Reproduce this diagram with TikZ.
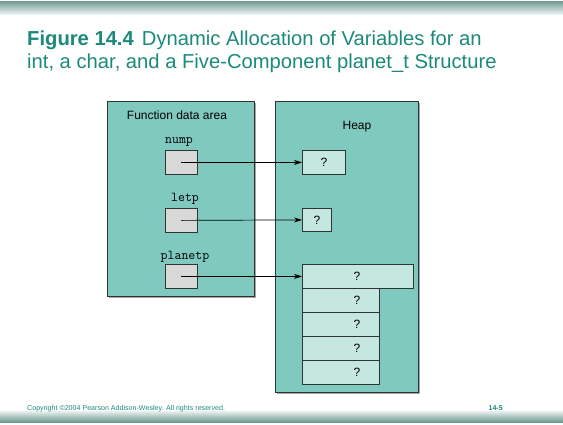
\documentclass[tikz,border=0pt]{standalone}
\usepackage{fontspec}
\setmainfont{Liberation Sans}
\usetikzlibrary{arrows.meta}
\definecolor{slideteal}{HTML}{1B8A7B}
\definecolor{bandtone}{HTML}{5E8F86}
\definecolor{areafill}{HTML}{80C9BF}
\definecolor{cellfill}{HTML}{C4E7E0}
\definecolor{ptrfill}{HTML}{D8D8D8}
\definecolor{edgegray}{HTML}{2E3533}
\definecolor{paper}{HTML}{FFFFFF}
\tikzset{
  panel/.style={inner sep=0pt, outer sep=0pt, anchor=north west, draw=none},
  area/.style={draw=edgegray, line width=0.9pt, fill=areafill, inner sep=0pt, anchor=north west},
  cell/.style={draw=edgegray, line width=0.8pt, fill=cellfill, inner sep=0pt, anchor=north west},
  ptrbox/.style={draw=edgegray, line width=0.8pt, fill=ptrfill, inner sep=0pt, anchor=north west},
  lbl/.style={font=\fontsize{12}{14}\selectfont, inner sep=0pt},
  varname/.style={font=\ttfamily\fontsize{13.5}{15}\selectfont, inner sep=0pt},
  link/.style={line width=0.7pt, -{Stealth[length=8pt,width=5pt]}},
}
\begin{document}
\begin{tikzpicture}[x=1pt,y=-1pt]
  % page background
  \node[panel, fill=paper, minimum width=563pt, minimum height=424pt] (page) at (0,0) {};
  \useasboundingbox (0,0) rectangle (563,424);
  % fading bands at top and bottom
  \foreach \k in {0,...,13} {
    \pgfmathtruncatemacro{\amt}{90-6*\k}
    \node[panel, fill=bandtone!\amt!paper, minimum width=563pt, minimum height=1.2pt] at (0,1+\k) {};
  }
  \foreach \k in {0,...,11} {
    \pgfmathtruncatemacro{\amt}{90-7*\k}
    \node[panel, fill=bandtone!\amt!paper, minimum width=563pt, minimum height=1.2pt] at (0,422-\k) {};
  }

  % title
  \node[anchor=base west, inner sep=0pt, text=slideteal, font=\fontsize{20.2}{23}\selectfont]
    (title1) at (27,45) {\textbf{Figure 14.4}\hspace{0.4em}Dynamic Allocation of Variables for an};
  \node[anchor=base west, inner sep=0pt, text=slideteal, font=\fontsize{20.2}{23}\selectfont]
    (title2) at (27,68) {int, a char, and a Five-Component planet\_t Structure};

  % areas with slight shadows
  \node[panel, fill=gray!70, minimum width=147pt, minimum height=195pt] (fdashadow) at (109,103) {};
  \node[area, minimum width=147pt, minimum height=195pt] (fda) at (107,101) {};
  \node[panel, fill=gray!70, minimum width=143pt, minimum height=291pt] (heapshadow) at (277,103) {};
  \node[area, minimum width=143pt, minimum height=291pt] (heap) at (275,101) {};
  \node[lbl] (fdalbl) at (177,115) {Function data area};
  \node[lbl] (heaplbl) at (357,127) {Heap};

  % pointer variables
  \node[varname] (numpname) at (179,142) {nump};
  \node[ptrbox, minimum width=32pt, minimum height=24pt] (nump) at (165,150) {};
  \node[varname] (letpname) at (185,199) {letp};
  \node[ptrbox, minimum width=32pt, minimum height=24pt] (letp) at (165,208) {};
  \node[varname] (planetpname) at (185,257) {planetp};
  \node[ptrbox, minimum width=32pt, minimum height=24pt] (planetp) at (165,264) {};

  % heap cells
  \node[cell, minimum width=43pt, minimum height=24pt] (intcell) at (302,150) {};
  \node[lbl] at (intcell.center) {?};
  \node[cell, minimum width=29pt, minimum height=23pt] (charcell) at (302,208) {};
  \node[lbl] at (charcell.center) {?};
  \node[cell, minimum width=111pt, minimum height=24pt] (pname) at (302,264) {};
  \node[lbl] at (357,276) {?};
  \node[cell, minimum width=77pt, minimum height=24pt] (pdiam) at (302,288) {};
  \node[lbl] at (357,300) {?};
  \node[cell, minimum width=77pt, minimum height=24pt] (pmoons) at (302,312) {};
  \node[lbl] at (357,324) {?};
  \node[cell, minimum width=77pt, minimum height=24pt] (porbit) at (302,336) {};
  \node[lbl] at (357,348) {?};
  \node[cell, minimum width=77pt, minimum height=24pt] (pday) at (302,360) {};
  \node[lbl] at (357,372) {?};

  % pointer links
  \draw[link] (nump.center) -- (intcell.west);
  \draw[link] (letp.center) -- (charcell.west);
  \draw[link] (planetp.center) -- (pname.west);

  % footer
  \node[anchor=base west, inner sep=0pt, text=slideteal, font=\fontsize{7.1}{8}\selectfont]
    (copy) at (27,410) {Copyright \textcopyright 2004 Pearson Addison-Wesley. All rights reserved.};
  \node[anchor=base east, inner sep=0pt, text=slideteal, font=\bfseries\fontsize{7.1}{8}\selectfont]
    (pageno) at (503,410) {14-5};
\end{tikzpicture}
\end{document}
